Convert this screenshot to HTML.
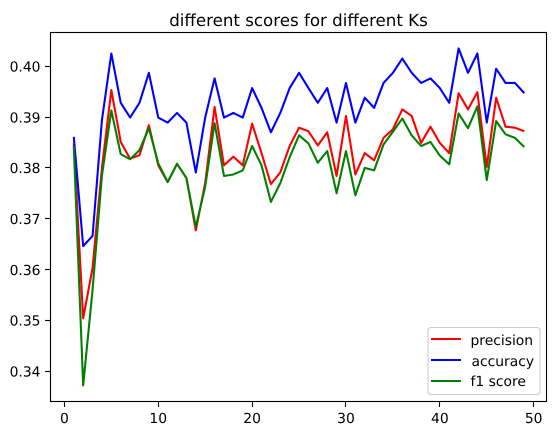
<!DOCTYPE html>
<html>
<head>
<meta charset="utf-8">
<style>
html,body{margin:0;padding:0;background:#fff;width:556px;height:435px;overflow:hidden}
svg{display:block}
text{font-family:"DejaVu Sans","Liberation Sans",sans-serif;fill:#000;text-rendering:geometricPrecision}
</style>
</head>
<body>
<svg id="chart" xmlns="http://www.w3.org/2000/svg" width="556" height="435" viewBox="0 0 556 435">
  <text x="298.5" y="26" text-anchor="middle" font-size="16.67">different scores for different Ks</text>
  <g id="series"></g>
  <g id="axes"></g>
  <rect x="50.5" y="32.5" width="496" height="369" fill="none" stroke="#000" stroke-width="1.11"/>
  <g>
    <rect x="428" y="327.5" width="112" height="67" rx="3" fill="#fff" fill-opacity="0.8" stroke="#ccc" stroke-width="1.11"/>
    <line x1="431" x2="461" y1="339" y2="339" stroke="#f00" stroke-width="2.08"/>
    <text x="470.5" y="345" font-size="13.89">precision</text>
    <line x1="431" x2="461" y1="360" y2="360" stroke="#00f" stroke-width="2.08"/>
    <text x="471.5" y="366" font-size="13.89">accuracy</text>
    <line x1="431" x2="461" y1="381" y2="381" stroke="#008000" stroke-width="2.08"/>
    <text x="470.5" y="386" font-size="13.89">f1 score</text>
  </g>
</svg>
<script>
const ks = [1,2,3,4,5,6,7,8,9,10,11,12,13,14,15,16,17,18,19,20,21,22,23,24,25,26,27,28,29,30,31,32,33,34,35,36,37,38,39,40,41,42,43,44,45,46,47,48,49];
const precision = [.3848,.3504,.3603,.3800,.3953,.3851,.3818,.3825,.3884,.3805,.3772,.3808,.3780,.3677,.3770,.3920,.3805,.3822,.3805,.3887,.3829,.3768,.3791,.3843,.3879,.3872,.3844,.3870,.3784,.3902,.3787,.3829,.3815,.3859,.3876,.3915,.3902,.3849,.3881,.3849,.3829,.3947,.3915,.3949,.3802,.3938,.3881,.3879,.3872];
const accuracy = [.3861,.3646,.3666,.3894,.4025,.3928,.3899,.3928,.3987,.3899,.3889,.3908,.3889,.3791,.3899,.3976,.3899,.3908,.3899,.3957,.3918,.3870,.3908,.3957,.3987,.3957,.3928,.3957,.3889,.3967,.3889,.3938,.3918,.3967,.3987,.4015,.3987,.3967,.3976,.3957,.3928,.4035,.3987,.4025,.3889,.3995,.3967,.3967,.3947];
const f1Score = [.3842,.3372,.3560,.3785,.3913,.3827,.3817,.3835,.3878,.3809,.3772,.3808,.3780,.3684,.3763,.3888,.3784,.3787,.3795,.3843,.3805,.3733,.3770,.3821,.3864,.3848,.3810,.3833,.3750,.3833,.3746,.3800,.3795,.3846,.3871,.3897,.3864,.3843,.3851,.3824,.3807,.3907,.3878,.3921,.3776,.3892,.3866,.3859,.3841];
const xTicks = [0,10,20,30,40,50];
const yTicks = [0.34,0.35,0.36,0.37,0.38,0.39,0.40];
const yTickLabels = ["0.34","0.35","0.36","0.37","0.38","0.39","0.40"];

const NS = "http://www.w3.org/2000/svg";
function xScale(v){ return 64.4 + v * 9.386; }
function yScale(v){ return 66.2 + (0.40 - v) * 5083; }

const seriesGroup = document.getElementById("series");
const axesGroup = document.getElementById("axes");

function drawSeries(values, color, name){
  const el = document.createElementNS(NS, "polyline");
  
  
  el.setAttribute("points", values.map((v,i)=>xScale(ks[i]).toFixed(2)+","+yScale(v).toFixed(2)).join(" "));
  el.setAttribute("fill", "none");
  el.setAttribute("stroke", color);
  el.setAttribute("stroke-width", "2.08");
  el.setAttribute("stroke-linejoin", "round");
  seriesGroup.appendChild(el);
}
drawSeries(precision, "#f00", "precision-line");
drawSeries(accuracy, "#00f", "accuracy-line");
drawSeries(f1Score, "#008000", "f1-score-line");

xTicks.forEach(function(t){
  const x = Math.floor(xScale(t)) + 0.5;
  const tick = document.createElementNS(NS, "line");
  
  
  tick.setAttribute("x1", x); tick.setAttribute("x2", x);
  tick.setAttribute("y1", 402); tick.setAttribute("y2", 406.9);
  tick.setAttribute("stroke", "#000"); tick.setAttribute("stroke-width", "1.11");
  axesGroup.appendChild(tick);
  const label = document.createElementNS(NS, "text");
  
  
  label.setAttribute("x", xScale(t)); label.setAttribute("y", 423);
  label.setAttribute("text-anchor", "middle");
  label.setAttribute("font-size", "13.89");
  label.textContent = String(t);
  axesGroup.appendChild(label);
});

yTicks.forEach(function(t,i){
  const y = yScale(t);
  const tick = document.createElementNS(NS, "line");
  
  
  tick.setAttribute("x1", 45.1); tick.setAttribute("x2", 50);
  tick.setAttribute("y1", Math.floor(y) + 0.5); tick.setAttribute("y2", Math.floor(y) + 0.5);
  tick.setAttribute("stroke", "#000"); tick.setAttribute("stroke-width", "1.11");
  axesGroup.appendChild(tick);
  const label = document.createElementNS(NS, "text");
  
  
  label.setAttribute("x", 40.5); label.setAttribute("y", y + 5.3);
  label.setAttribute("text-anchor", "end");
  label.setAttribute("font-size", "13.89");
  label.textContent = yTickLabels[i];
  axesGroup.appendChild(label);
});
</script>
</body>
</html>
